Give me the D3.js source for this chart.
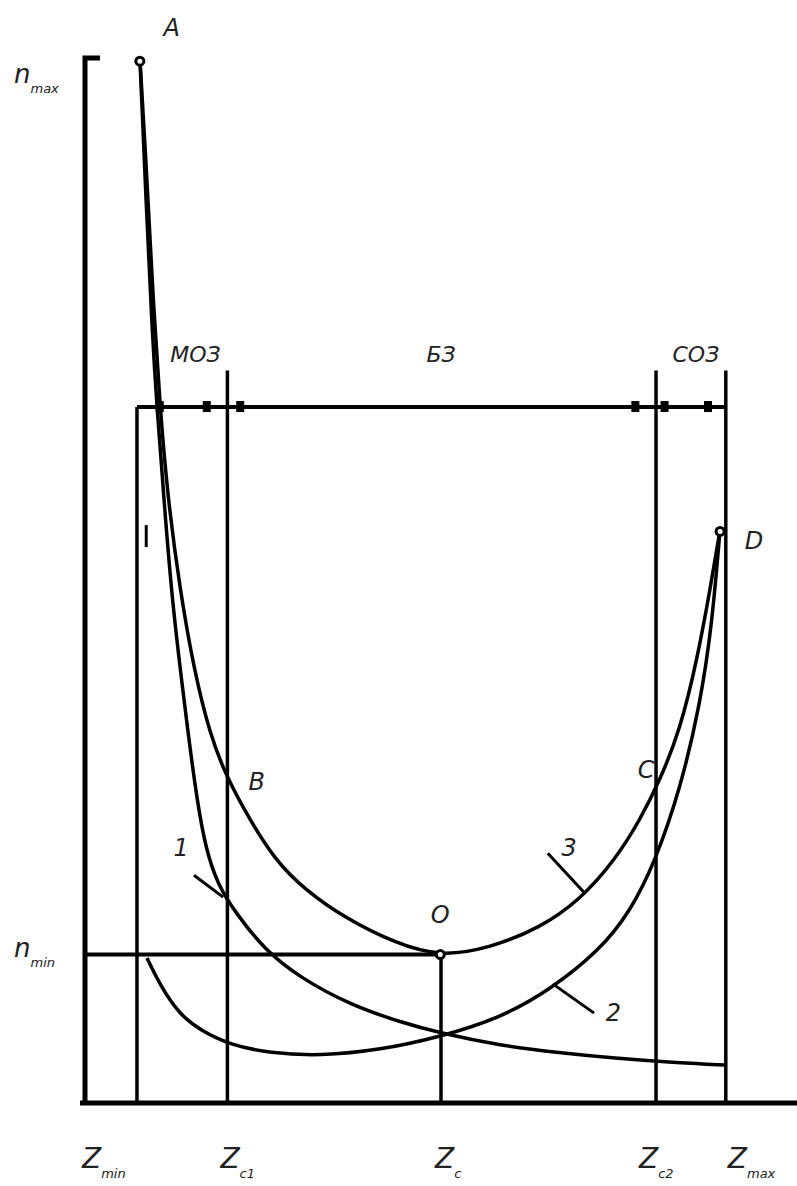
<!DOCTYPE html>
<html>
<head>
<meta charset="utf-8">
<script src="https://cdn.jsdelivr.net/npm/d3@7"></script>
<style>
  body { margin: 0; background: #fff; }
  text { font-family: "DejaVu Sans", sans-serif; font-style: italic; fill: #222; }
</style>
</head>
<body>
<script>
// Z values of the vertical marks and their labels
var zMarks = [7.3, 20, 50, 80.2, 90];
var zLabels = [["Z", "min"], ["Z", "c1"], ["Z", "c"], ["Z", "c2"], ["Z", "max"]];
// n levels
var nMax = 99.7, nMin = 14.2, nZone = 66.6;
var nLabels = [["n", "max"], ["n", "min"]];

// curve 1 (steep fall, then slow decline)
var curve1 = [[7.72,99.8],[8.57,86.4],[9.41,74],[10.11,66.5],[11.1,57.7],[12.22,48.1],[13.9,38.6],[14.61,34.74],[15.73,28.99],[16.99,24.21],[18.68,20.86],[21.07,18.28],[25.28,14.6],[30.2,12],[37.22,9.4],[44.24,7.75],[49.86,6.7],[58.29,5.5],[66.71,4.8],[74.14,4.3],[83.57,3.83],[89.89,3.64]];
// curve 2 (from n_min near Z_min, through the lowest valley, up to D)
var curve2 = [[8.71,13.88],[10.53,11.29],[13.34,8.42],[16.15,6.99],[20.37,5.55],[25.98,4.78],[33.01,4.5],[41.43,5.07],[49.86,6.32],[58.29,8.13],[65.31,10.81],[72.33,14.64],[76.54,18.28],[80.06,23.06],[83.57,29.95],[86.38,38.09],[88.06,45.74],[89.19,54.83]];
// curve 3 (through B, O, C to D)
var curve3 = [[7.72,99.8],[8.57,90.2],[9.41,78.8],[10.53,66.5],[11.66,57.7],[13.34,49.1],[15.31,41.44],[17.56,35.22],[19.94,31.1],[23.17,27.08],[26.69,23.25],[30.9,20.4],[36.52,17.7],[43.54,15.3],[49.86,14.0],[56.88,14.83],[63.9,16.75],[69.52,19.43],[74.44,23.25],[77.95,27.08],[80.76,30.91],[83.57,35.69],[85.96,42.39],[87.78,49.09],[89.19,54.83]];
// short fragment left of curve 2
var fragment = [[8.6,55.3],[8.6,53.2]];

// labelled points
var points = [
  { name: "A", z: 7.7, n: 99.7, open: true, dx: 32, dy: -33 },
  { name: "D", z: 89.2, n: 54.7, open: true, dx: 34, dy: 10 },
  { name: "B", z: 19.9, n: 30.9, open: false, dx: 30, dy: 2 },
  { name: "C", z: 80.5, n: 30.9, open: false, dx: -12, dy: -10 },
  { name: "O", z: 49.9, n: 14.2, open: true, dx: 0, dy: -40 }
];
// zone labels above the horizontal line
var zones = [["МОЗ", 15.5], ["БЗ", 50], ["СОЗ", 85.8]];
// small marks on the zone line
var zoneTicks = [10.5, 17.1, 21.8, 77.3, 81.4, 87.5];
// curve numbers and their leader lines
var curveNums = [
  { t: "1", z: 13.5, n: 23.6, from: [15.3, 21.8], to: [19.4, 19.7] },
  { t: "2", z: 74.2, n: 7.8, from: [65.7, 11.4], to: [71.5, 8.6] },
  { t: "3", z: 68, n: 23.6, from: [65, 23.9], to: [70.3, 20] }
];
// horizontal shift of each Z label from its mark, px
var zLabelShift = [-55, -7, -6, -17, 2];

var W = 797, H = 1186;
var svg = d3.select("body").append("svg").attr("width", W).attr("height", H);

var x = d3.scaleLinear().domain([0, 100]).range([85, 797]);
var y = d3.scaleLinear().domain([0, 100]).range([1103, 58]);

var line = d3.line().x(function(d){ return x(d[0]); }).y(function(d){ return y(d[1]); });
var smooth = d3.line().curve(d3.curveBasis)
  .x(function(d){ return x(d[0]); }).y(function(d){ return y(d[1]); });

var stroke = "#000";

// axes
svg.append("path").attr("d", line([[-0.7, 0], [100, 0]]))
  .attr("stroke", stroke).attr("stroke-width", 5).attr("fill", "none");
svg.append("path").attr("d", line([[2.1, 100], [0, 100], [0, 0]]))
  .attr("stroke", stroke).attr("stroke-width", 5).attr("fill", "none");

// vertical marks
var vTop = [nZone, nZone + 3.5, nMin, nZone + 3.5, nZone + 3.5];
zMarks.forEach(function(z, i){
  svg.append("line").attr("x1", x(z)).attr("x2", x(z))
    .attr("y1", y(vTop[i])).attr("y2", y(0))
    .attr("stroke", stroke).attr("stroke-width", 3.5);
});

// zone line and n_min line
svg.append("line").attr("x1", x(zMarks[0])).attr("x2", x(zMarks[4]))
  .attr("y1", y(nZone)).attr("y2", y(nZone)).attr("stroke", stroke).attr("stroke-width", 4);
svg.append("line").attr("x1", x(0)).attr("x2", x(zMarks[2]))
  .attr("y1", y(nMin)).attr("y2", y(nMin)).attr("stroke", stroke).attr("stroke-width", 4);

svg.selectAll("rect.zt").data(zoneTicks).enter().append("rect")
  .attr("class", "zt")
  .attr("x", function(d){ return x(d) - 4; }).attr("y", y(nZone) - 6)
  .attr("width", 8).attr("height", 11).attr("fill", stroke);

// curves
[curve1, curve2, curve3].forEach(function(c){
  svg.append("path").attr("d", smooth(c))
    .attr("stroke", stroke).attr("stroke-width", 3.5).attr("fill", "none");
});
svg.append("path").attr("d", line(fragment))
  .attr("stroke", stroke).attr("stroke-width", 3).attr("fill", "none");

// leader lines and curve numbers
curveNums.forEach(function(c){
  svg.append("line").attr("x1", x(c.from[0])).attr("y1", y(c.from[1]))
    .attr("x2", x(c.to[0])).attr("y2", y(c.to[1]))
    .attr("stroke", stroke).attr("stroke-width", 3);
  svg.append("text").attr("x", x(c.z)).attr("y", y(c.n))
    .attr("text-anchor", "middle").attr("font-size", 24).text(c.t);
});

// points
points.forEach(function(p){
  if (p.open) {
    svg.append("circle").attr("cx", x(p.z)).attr("cy", y(p.n)).attr("r", 4)
      .attr("fill", "#fff").attr("stroke", stroke).attr("stroke-width", 3);
  }
  svg.append("text").attr("x", x(p.z) + p.dx).attr("y", y(p.n) + p.dy + 8)
    .attr("text-anchor", "middle").attr("font-size", 24).text(p.name);
});

zones.forEach(function(zz){
  svg.append("text").attr("x", x(zz[1])).attr("y", y(nZone) - 45)
    .attr("text-anchor", "middle").attr("font-size", 22).text(zz[0]);
});

// axis labels with subscripts
function subLabel(px, py, l, fs) {
  var t = svg.append("text").attr("x", px).attr("y", py).attr("font-size", fs);
  t.append("tspan").text(l[0]);
  t.append("tspan").attr("dy", 10).attr("font-size", 13).text(l[1]);
}
subLabel(14, y(nMax) + 22, nLabels[0], 26);
subLabel(14, y(nMin) + 2, nLabels[1], 26);
zMarks.forEach(function(z, i){
  subLabel(x(z) + zLabelShift[i], 1168, zLabels[i], 28);
});
</script>
</body>
</html>
